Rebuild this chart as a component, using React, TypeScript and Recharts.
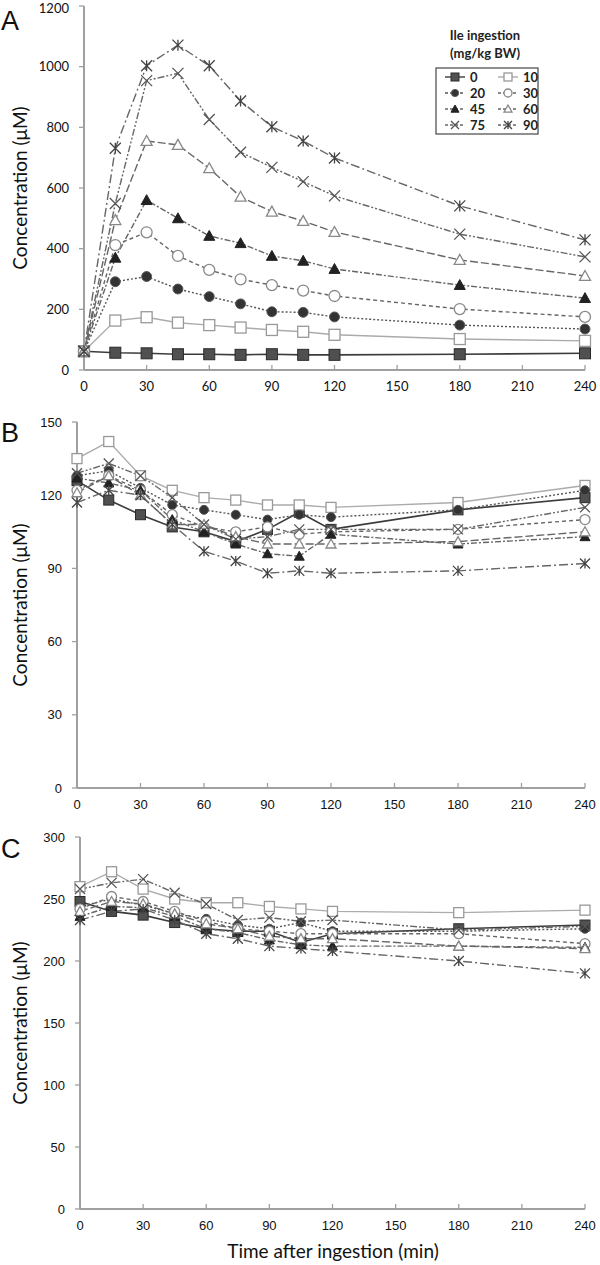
import { LineChart, Line, XAxis, YAxis } from "recharts";

// sampling times (min)
const times = [0, 15, 30, 45, 60, 75, 90, 105, 120, 180, 240];
const xTicks = [0, 30, 60, 90, 120, 150, 180, 210, 240];
const doses = ["0", "10", "20", "30", "45", "60", "75", "90"];

// panel A – plasma Ile (µM)
const a0 = [62, 57, 55, 52, 52, 50, 52, 50, 50, 52, 55];
const a10 = [62, 163, 174, 156, 148, 140, 132, 126, 116, 102, 96];
const a20 = [62, 291, 308, 267, 242, 218, 192, 190, 175, 148, 135];
const a30 = [62, 412, 454, 376, 330, 299, 280, 262, 244, 201, 175];
const a45 = [62, 370, 560, 500, 442, 418, 376, 360, 333, 280, 237];
const a60 = [62, 494, 755, 742, 665, 571, 522, 491, 455, 363, 310];
const a75 = [62, 549, 954, 978, 826, 718, 668, 621, 574, 448, 373];
const a90 = [62, 731, 1003, 1071, 1003, 887, 802, 755, 699, 541, 429];
const aTicks = [0, 200, 400, 600, 800, 1000, 1200];

// panel B
const b0 = [126, 118, 112, 107, 105, 101, 106, 113, 106, 114, 119];
const b10 = [135, 142, 128, 122, 119, 118, 116, 116, 115, 117, 124];
const b20 = [128, 130, 123, 116, 114, 112, 110, 112, 111, 114, 122];
const b30 = [122, 128, 122, 112, 107, 105, 107, 104, 105, 106, 110];
const b45 = [127, 125, 122, 110, 105, 100, 96, 95, 104, 100, 103];
const b60 = [121, 128, 120, 108, 108, 103, 100, 100, 100, 101, 105];
const b75 = [129, 133, 128, 119, 108, 102, 103, 106, 106, 106, 115];
const b90 = [117, 122, 120, 108, 97, 93, 88, 89, 88, 89, 92];
const bTicks = [0, 30, 60, 90, 120, 150];

// panel C
const c0 = [248, 240, 237, 231, 226, 224, 224, 215, 222, 226, 229];
const c10 = [260, 272, 258, 250, 247, 247, 244, 242, 240, 239, 241];
const c20 = [244, 250, 245, 238, 234, 229, 226, 231, 224, 224, 226];
const c30 = [242, 252, 248, 240, 232, 226, 224, 222, 222, 222, 214];
const c45 = [236, 244, 243, 236, 226, 223, 217, 213, 212, 212, 211];
const c60 = [240, 248, 246, 238, 230, 226, 220, 218, 218, 212, 210];
const c75 = [258, 263, 266, 255, 246, 233, 235, 232, 233, 225, 228];
const c90 = [233, 240, 242, 233, 222, 218, 212, 210, 208, 200, 190];
const cTicks = [0, 50, 100, 150, 200, 250, 300];

type Kind = "sqFill" | "sqOpen" | "cirFill" | "cirOpen" | "triFill" | "triOpen" | "cross" | "star";

const looks: { kind: Kind; stroke: string; dash?: string; w: number }[] = [
  { kind: "sqFill", stroke: "#3c3c3c", w: 1.6 },
  { kind: "sqOpen", stroke: "#ababab", w: 1.4 },
  { kind: "cirFill", stroke: "#555", dash: "2 2", w: 1.4 },
  { kind: "cirOpen", stroke: "#666", dash: "4 3", w: 1.4 },
  { kind: "triFill", stroke: "#666", dash: "6 2 2 2", w: 1.4 },
  { kind: "triOpen", stroke: "#666", dash: "8 3", w: 1.4 },
  { kind: "cross", stroke: "#666", dash: "7 2 2 2 2 2", w: 1.4 },
  { kind: "star", stroke: "#666", dash: "9 3 2 3", w: 1.4 },
];

function Marker({ kind, cx, cy, s = 5 }: { kind: Kind; cx: number; cy: number; s?: number }) {
  if (cx == null || cy == null) return null;
  switch (kind) {
    case "sqFill":
      return <rect x={cx - s} y={cy - s} width={2 * s} height={2 * s} fill="#505050" stroke="#2a2a2a" strokeWidth={1} />;
    case "sqOpen":
      return <rect x={cx - s} y={cy - s} width={2 * s} height={2 * s} fill="#fff" stroke="#999" strokeWidth={1.3} />;
    case "cirFill":
      return <circle cx={cx} cy={cy} r={s * 0.9} fill="#333" stroke="#555" strokeWidth={1} />;
    case "cirOpen":
      return <circle cx={cx} cy={cy} r={s} fill="#fff" stroke="#888" strokeWidth={1.3} />;
    case "triFill":
      return <path d={`M${cx},${cy - s} L${cx + s},${cy + s * 0.8} L${cx - s},${cy + s * 0.8}Z`} fill="#222" stroke="#222" />;
    case "triOpen":
      return <path d={`M${cx},${cy - s} L${cx + s},${cy + s * 0.8} L${cx - s},${cy + s * 0.8}Z`} fill="#fff" stroke="#888" strokeWidth={1.3} />;
    case "cross":
      return (
        <path d={`M${cx - s},${cy - s} L${cx + s},${cy + s} M${cx + s},${cy - s} L${cx - s},${cy + s}`} stroke="#555" strokeWidth={1.3} fill="none" />
      );
    default:
      return (
        <path
          d={`M${cx - s},${cy - s} L${cx + s},${cy + s} M${cx + s},${cy - s} L${cx - s},${cy + s} M${cx},${cy - s} L${cx},${cy + s}`}
          stroke="#444"
          strokeWidth={1.3}
          fill="none"
        />
      );
  }
}

const build = (sets: number[][]) =>
  times.map((t, i) => {
    const row: Record<string, number> = { t };
    sets.forEach((s, k) => (row["d" + doses[k]] = s[i]));
    return row;
  });

const dataA = build([a0, a10, a20, a30, a45, a60, a75, a90]);
const dataB = build([b0, b10, b20, b30, b45, b60, b75, b90]);
const dataC = build([c0, c10, c20, c30, c45, c60, c75, c90]);

const axisGray = "#a0a0a0";

function Panel({
  data,
  ticks,
  max,
  height,
  top,
  yWidth,
  tickFont,
  ms,
}: {
  data: Record<string, number>[];
  ticks: number[];
  max: number;
  height: number;
  top: number;
  yWidth: number;
  tickFont: string;
  ms: number;
}) {
  const bottom = height - 30;
  const XTick = (p: any) => (
    <g>
      <line x1={p.x} x2={p.x} y1={bottom} y2={bottom - 5} stroke={axisGray} strokeWidth={1.3} />
      <text x={p.x} y={bottom + 21} textAnchor="middle" fontSize={13} fontFamily={tickFont} fill="#111">
        {p.payload.value}
      </text>
    </g>
  );
  return (
    <LineChart width={600} height={height} data={data} margin={{ top, right: 15, left: 0, bottom: 0 }}>
      <XAxis
        dataKey="t"
        type="number"
        domain={[0, 240]}
        ticks={xTicks}
        height={30}
        axisLine={{ stroke: axisGray, strokeWidth: 2 }}
        tickLine={false}
        tick={XTick}
      />
      <YAxis
        type="number"
        domain={[0, max]}
        ticks={ticks}
        width={yWidth}
        axisLine={{ stroke: axisGray, strokeWidth: 2 }}
        tickLine={{ stroke: axisGray, strokeWidth: 1.3 }}
        tickSize={5}
        tickMargin={10}
        tick={{ fontSize: 13, fontFamily: tickFont, fill: "#111" }}
      />
      {looks.map((l, k) => (
        <Line
          key={k}
          dataKey={"d" + doses[k]}
          type="linear"
          stroke={l.stroke}
          strokeWidth={l.w}
          strokeDasharray={l.dash}
          isAnimationActive={false}
          dot={(p: any) => <Marker key={`${k}-${p.index}`} kind={l.kind} cx={p.cx} cy={p.cy} s={ms} />}
        />
      ))}
    </LineChart>
  );
}

const label: React.CSSProperties = {
  position: "absolute",
  fontFamily: "Lato, 'Open Sans', sans-serif",
  fontSize: 19,
  color: "#111",
  whiteSpace: "nowrap",
};

function YTitle({ cy }: { cy: number }) {
  return (
    <div style={{ ...label, left: 19, top: cy, transform: "translate(-50%, -50%) rotate(-90deg)" }}>
      Concentration (μM)
    </div>
  );
}

function Letter({ ch, top }: { ch: string; top: number }) {
  return (
    <div style={{ position: "absolute", left: 1, top, fontFamily: "'Liberation Sans', Arial, sans-serif", fontSize: 27, lineHeight: "27px", color: "#111" }}>
      {ch}
    </div>
  );
}

function LegendBox() {
  const rows = [0, 1, 2, 3];
  return (
    <svg width={130} height={120} style={{ position: "absolute", left: 425, top: 20 }}>
      <text x={60} y={20} textAnchor="middle" fontFamily="Lato, sans-serif" fontWeight={700} fontSize={13} fill="#222">
        Ile ingestion
      </text>
      <text x={60} y={38} textAnchor="middle" fontFamily="Lato, sans-serif" fontWeight={700} fontSize={13} fill="#222">
        (mg/kg BW)
      </text>
      <rect x={11} y={48} width={102} height={66} fill="#fff" stroke="#555" strokeWidth={1.3} />
      {rows.map((r) =>
        [0, 1].map((c) => {
          const k = r * 2 + c;
          const l = looks[k];
          const y = 57 + r * 16;
          const x0 = 20 + c * 53;
          return (
            <g key={k}>
              <line x1={x0} x2={x0 + 20} y1={y} y2={y} stroke={l.stroke} strokeWidth={1.4} strokeDasharray={l.dash ? "3 2" : undefined} />
              <Marker kind={l.kind} cx={x0 + 10} cy={y} s={4} />
              <text x={x0 + 25} y={y + 5} fontFamily="Lato, sans-serif" fontWeight={700} fontSize={13} fill="#222">
                {doses[k]}
              </text>
            </g>
          );
        })
      )}
    </svg>
  );
}

export default function App() {
  return (
    <div style={{ position: "absolute", left: 0, top: 0, width: 600, height: 1265, background: "#fff" }}>
      <div style={{ position: "absolute", left: 0, top: 0 }}>
        <Panel data={dataA} ticks={aTicks} max={1200} height={400} top={6} yWidth={84} tickFont="Lato, sans-serif" ms={5.5} />
      </div>
      <div style={{ position: "absolute", left: 0, top: 410 }}>
        <Panel data={dataB} ticks={bTicks} max={150} height={408} top={12} yWidth={77} tickFont="'Liberation Sans', Arial, sans-serif" ms={5} />
      </div>
      <div style={{ position: "absolute", left: 0, top: 825 }}>
        <Panel data={dataC} ticks={cTicks} max={300} height={414} top={12} yWidth={80} tickFont="'Liberation Sans', Arial, sans-serif" ms={5} />
      </div>
      <LegendBox />
      <Letter ch="A" top={8} />
      <Letter ch="B" top={420} />
      <Letter ch="C" top={836} />
      <YTitle cy={188} />
      <YTitle cy={605} />
      <YTitle cy={1023} />
      <div style={{ ...label, left: 333, top: 1250, transform: "translate(-50%, -50%)" }}>Time after ingestion (min)</div>
    </div>
  );
}
